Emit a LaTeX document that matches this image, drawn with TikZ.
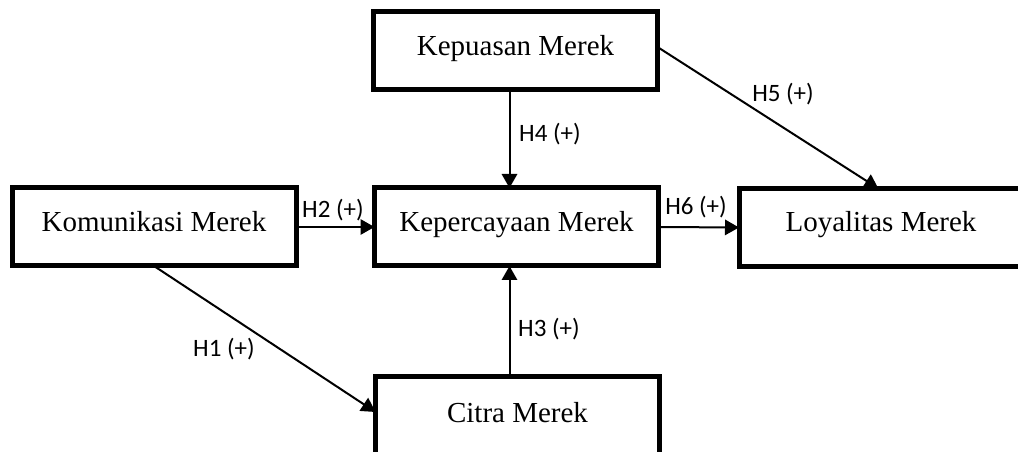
\documentclass[tikz,border=0pt]{standalone}
\usepackage{fontspec}
\setmainfont{Liberation Serif}
\newfontfamily\labelfont{Carlito}
\usetikzlibrary{arrows.meta}

\tikzset{
  construct/.style={draw=black, line width=3.75pt, fill=white, rectangle,
    minimum width=213pt, minimum height=58.5pt, outer sep=0pt, inner sep=0pt,
    font=\fontsize{21.75pt}{26pt}\selectfont, text height=0.66em, text depth=0pt},
  path arrow/.style={draw=black, line width=1.5pt,
    -{Triangle[length=10.5pt, width=11.5pt]}},
  hyp/.style={inner sep=0pt, font=\labelfont\fontsize{18.75pt}{22pt}\selectfont,
    text height=0.64em, text depth=0pt}
}

\begin{document}
\begin{tikzpicture}[x=0.75pt, y=-0.75pt]
  \useasboundingbox (0,0) rectangle (1018,452);
  \begin{scope}
    \clip (0,0) rectangle (1018,452);

    % constructs of the research model
    \node[construct] (kepuasan)    at (515.5,51)  {Kepuasan Merek};
    \node[construct] (komunikasi)  at (154,227)   {Komunikasi Merek};
    \node[construct] (kepercayaan) at (516.5,227) {Kepercayaan Merek};
    \node[construct] (loyalitas)   at (881,227.5) {Loyalitas Merek};
    \node[construct, minimum height=61.5pt] (citra) at (517.5,418) {Citra Merek};

    % hypothesised paths
    \draw[path arrow] (komunikasi.south) -- ([yshift=4.5pt]citra.west);
    \draw[path arrow] (komunikasi.east) -- (kepercayaan.west);
    \draw[path arrow] ([xshift=-6pt]citra.north) -- ([xshift=-6pt]citra.north |- kepercayaan.south);
    \draw[path arrow] ([xshift=-4.5pt]kepuasan.south) -- ([xshift=-4.5pt]kepuasan.south |- kepercayaan.north);
    \draw[path arrow] ([yshift=3pt]kepuasan.east) -- ([xshift=-2pt]loyalitas.north);
    \draw[path arrow] (kepercayaan.east) -- (loyalitas.west);

    % hypothesis labels
    \node[hyp] (h1) at (224,352) {H1 (+)};
    \node[hyp] (h2) at (333,213) {H2 (+)};
    \node[hyp] (h3) at (549,332) {H3 (+)};
    \node[hyp] (h4) at (550,137) {H4 (+)};
    \node[hyp] (h5) at (783,97)  {H5 (+)};
    \node[hyp] (h6) at (696,210) {H6 (+)};
  \end{scope}
\end{tikzpicture}
\end{document}
